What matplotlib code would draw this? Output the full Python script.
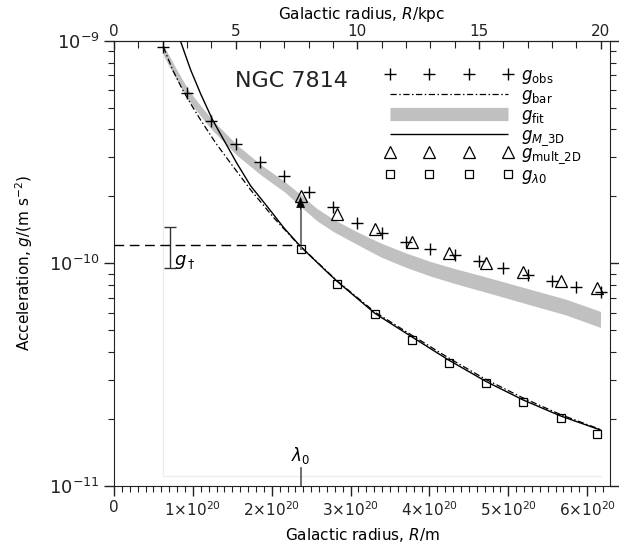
import numpy as np
import matplotlib.pyplot as plt
from matplotlib.lines import Line2D
from matplotlib.legend_handler import HandlerLine2D
from matplotlib.ticker import MultipleLocator, LogLocator, NullFormatter, FixedFormatter, FixedLocator

plt.rcParams['font.family'] = ['DejaVu Sans']
plt.rcParams['mathtext.fontset'] = 'dejavusans'

KPC = 3.0857e19   # m per kpc

# observed accelerations at 2..20 kpc
r_obs_kpc = [2, 3, 4, 5, 6, 7, 8, 9, 10, 11, 12, 13, 14, 15, 16, 17, 18, 19, 20]
g_obs = [9.43e-10, 5.85e-10, 4.37e-10, 3.43e-10, 2.87e-10, 2.48e-10, 2.09e-10,
         1.79e-10, 1.52e-10, 1.373e-10, 1.251e-10, 1.156e-10, 1.090e-10,
         1.025e-10, 9.50e-11, 8.86e-11, 8.36e-11, 7.85e-11, 7.46e-11]

# points at multiples of lambda_0 (units 1e20 m)
r_lam = [2.366, 2.832, 3.308, 3.773, 4.246, 4.720, 5.189, 5.662, 6.127]
g_mult2d = [2.015e-10, 1.667e-10, 1.427e-10, 1.251e-10, 1.116e-10, 1.007e-10,
            9.17e-11, 8.36e-11, 7.72e-11]
g_lam0 = [1.156e-10, 8.04e-11, 5.90e-11, 4.52e-11, 3.57e-11, 2.90e-11,
          2.39e-11, 2.01e-11, 1.70e-11]

# baryonic model (dash-dot)
r_bar = [0.626, 0.744, 0.871, 0.997, 1.099, 1.289, 1.479, 1.733, 2.028, 2.324,
         2.831, 3.308, 3.773, 4.246, 4.720, 5.189, 5.662, 6.169]
g_bar = [9.40e-10, 7.41e-10, 6.02e-10, 5.05e-10, 4.41e-10, 3.48e-10, 2.82e-10,
         2.14e-10, 1.60e-10, 1.231e-10, 8.33e-11, 6.04e-11, 4.76e-11, 3.75e-11,
         3.00e-11, 2.48e-11, 2.09e-11, 1.79e-11]

# M_3D model (solid)
r_m3d = [0.807, 0.972, 1.099, 1.251, 1.555, 1.733, 1.949, 2.151, 2.366, 2.683,
         2.831, 3.308, 3.773, 4.246, 4.720, 5.189, 5.662, 6.169]
g_m3d = [1.085e-9, 7.41e-10, 5.78e-10, 4.41e-10, 2.83e-10, 2.23e-10, 1.79e-10,
         1.449e-10, 1.19e-10, 9.28e-11, 8.29e-11, 5.96e-11, 4.68e-11, 3.67e-11,
         2.94e-11, 2.43e-11, 2.06e-11, 1.78e-11]

# fit band (grey)
r_fit = [0.626, 0.782, 0.943, 1.099, 1.247, 1.555, 1.868, 2.167, 2.366, 2.568,
         2.781, 3.076, 3.380, 3.697, 4.014, 4.331, 4.648, 4.965, 5.281, 5.725, 6.169]
g_fit_lo = [8.63e-10, 6.80e-10, 5.42e-10, 4.59e-10, 3.97e-10, 3.07e-10, 2.49e-10,
            2.09e-10, 1.80e-10, 1.56e-10, 1.39e-10, 1.22e-10, 1.070e-10, 9.61e-11,
            8.76e-11, 8.10e-11, 7.53e-11, 7.00e-11, 6.50e-11, 5.87e-11, 5.15e-11]
g_fit_hi = [9.61e-10, 7.57e-10, 6.03e-10, 5.11e-10, 4.42e-10, 3.42e-10, 2.77e-10,
            2.33e-10, 2.04e-10, 1.77e-10, 1.58e-10, 1.39e-10, 1.236e-10, 1.115e-10,
            1.019e-10, 9.45e-11, 8.82e-11, 8.21e-11, 7.64e-11, 6.91e-11, 6.08e-11]

lam0 = 2.366e20
g_dagger = 1.21e-10
g_dagger_lo = 9.56e-11
g_dagger_hi = 1.462e-10

x_ticks = [0, 1, 2, 3, 4, 5, 6]
x_ticklabels = ['0', r'$1{\times}10^{20}$', r'$2{\times}10^{20}$', r'$3{\times}10^{20}$',
                r'$4{\times}10^{20}$', r'$5{\times}10^{20}$', r'$6{\times}10^{20}$']

fig = plt.figure(figsize=(6.19, 5.52), dpi=100)
ax = fig.add_axes([0.1842, 0.1201, 0.8013, 0.8056])
ax.set_yscale('log')
ax.set_xlim(0, 6.29e20)
ax.set_ylim(1e-11, 1e-9)

e20 = 1e20
ax.fill_between(np.array(r_fit) * e20, g_fit_lo, g_fit_hi, color='#c0c0c0', lw=0, zorder=1)

# faint frame of the data region
ax.plot([r_fit[0] * e20, r_fit[0] * e20], [1.105e-11, 1e-9], color='#ececec', lw=0.8, zorder=0)
ax.plot([r_fit[0] * e20, 20 * KPC], [1.105e-11, 1.105e-11], color='#ececec', lw=0.8, zorder=0)

ax.plot(np.array(r_bar) * e20, g_bar, color='k', lw=0.9, ls=(0, (5, 2, 1.2, 2)), zorder=3)
ax.plot(np.array(r_m3d) * e20, g_m3d, color='k', lw=1.0, zorder=3)

ax.plot(np.array(r_obs_kpc) * KPC, g_obs, ls='none', marker='+', ms=8.5, mew=1.0, color='k', zorder=4)
ax.plot(np.array(r_lam) * e20, g_mult2d, ls='none', marker='^', ms=9, mew=0.9,
        mfc='none', mec='k', zorder=4)
ax.plot(np.array(r_lam) * e20, g_lam0, ls='none', marker='s', ms=5.5, mew=0.9,
        mfc='none', mec='k', zorder=4)

# g_dagger line and error bar
ax.hlines(g_dagger, 0, lam0, colors='k', lw=1.0, linestyles=(0, (7, 4)), zorder=3)
ax.errorbar([0.71e20], [g_dagger], yerr=[[g_dagger - g_dagger_lo], [g_dagger_hi - g_dagger]],
            fmt='none', ecolor='#333333', elinewidth=1.0, capsize=4, capthick=1.0, zorder=3)
ax.text(0.76e20, 1.01e-10, r'$g_\dagger$', fontsize=13, ha='left', va='center')

# arrow from g_lambda0 to g_mult_2D
ax.plot([lam0, lam0], [g_lam0[0], 1.80e-10], color='#777777', lw=1.5, zorder=3)
ax.annotate('', xy=(lam0, 1.99e-10), xytext=(lam0, 1.75e-10),
            arrowprops=dict(arrowstyle='-|>,head_length=0.7,head_width=0.28',
                            color='k', lw=0.5, shrinkA=0, shrinkB=0), zorder=5)

# lambda_0 marker
ax.axvline(lam0, ymin=0, ymax=0.04, color='#555555', lw=1.2)
ax.text(lam0, 0.045, r'$\lambda_0$', transform=ax.get_xaxis_transform(),
        ha='center', va='bottom', fontsize=12)

ax.text(0.357, 0.91, 'NGC 7814', transform=ax.transAxes, fontsize=16,
        ha='center', va='center', color='#222222')

# axes styling
ax.xaxis.set_major_locator(FixedLocator([v * e20 for v in x_ticks]))
ax.xaxis.set_major_formatter(FixedFormatter(x_ticklabels))
ax.xaxis.set_minor_locator(MultipleLocator(0.1e20))
ax.yaxis.set_major_locator(LogLocator(base=10))
ax.yaxis.set_minor_locator(LogLocator(base=10, subs=np.arange(2, 10)))
ax.yaxis.set_minor_formatter(NullFormatter())
ax.tick_params(which='both', direction='out', top=False, right=True, labelsize=11, colors='#222222')
ax.tick_params(axis='y', labelsize=13)
ax.tick_params(which='major', length=7, width=1)
ax.tick_params(which='minor', length=4, width=0.8)
for s in ax.spines.values():
    s.set_color('#222222')

ax.set_xlabel(r'Galactic radius, $R$/m', fontsize=11, labelpad=5)
ax.set_ylabel(r'Acceleration, $g$/(m s$^{-2}$)', fontsize=11, labelpad=10)

secax = ax.secondary_xaxis('top', functions=(lambda x: x / KPC, lambda x: x * KPC))
secax.xaxis.set_major_locator(FixedLocator([0, 5, 10, 15, 20]))
secax.xaxis.set_minor_locator(MultipleLocator(1))
secax.tick_params(which='both', direction='in', labelsize=11, colors='#222222', pad=1.5)
secax.tick_params(which='major', length=6, width=1)
secax.tick_params(which='minor', length=5, width=0.8)
secax.set_xlabel(r'Galactic radius, $R$/kpc', fontsize=11, labelpad=3.5)

handler = {Line2D: HandlerLine2D(marker_pad=0)}
handles_a = [
    Line2D([], [], ls='none', marker='+', ms=8.5, mew=1.0, color='k'),
    Line2D([], [], color='k', lw=0.9, ls=(0, (5, 2, 1.2, 2))),
    Line2D([], [], color='#c0c0c0', lw=9.5, solid_capstyle='butt'),
    Line2D([], [], color='k', lw=1.0, solid_capstyle='butt'),
]
labels_a = [r'$g_{\mathrm{obs}}$', r'$g_{\mathrm{bar}}$', r'$g_{\mathrm{fit}}$',
            r'$g_{M\mathrm{\_3D}}$']
handles_b = [
    Line2D([], [], ls='none', marker='^', ms=9, mew=0.9, mfc='none', mec='k'),
    Line2D([], [], ls='none', marker='s', ms=5.5, mew=0.9, mfc='none', mec='k'),
]
labels_b = [r'$g_{\mathrm{mult\_2D}}$', r'$g_{\lambda0}$']
leg_kw = dict(loc='upper left', frameon=False, fontsize=12, numpoints=4, handlelength=7.08,
              handletextpad=0.8, labelspacing=0.0, borderpad=0, borderaxespad=0,
              handler_map=handler)
leg_a = ax.legend(handles_a, labels_a, bbox_to_anchor=(0.5565, 0.944), **leg_kw)
ax.add_artist(leg_a)
ax.legend(handles_b, labels_b, bbox_to_anchor=(0.5565, 0.7685), **leg_kw)

fig.savefig('out.png', dpi=100)
